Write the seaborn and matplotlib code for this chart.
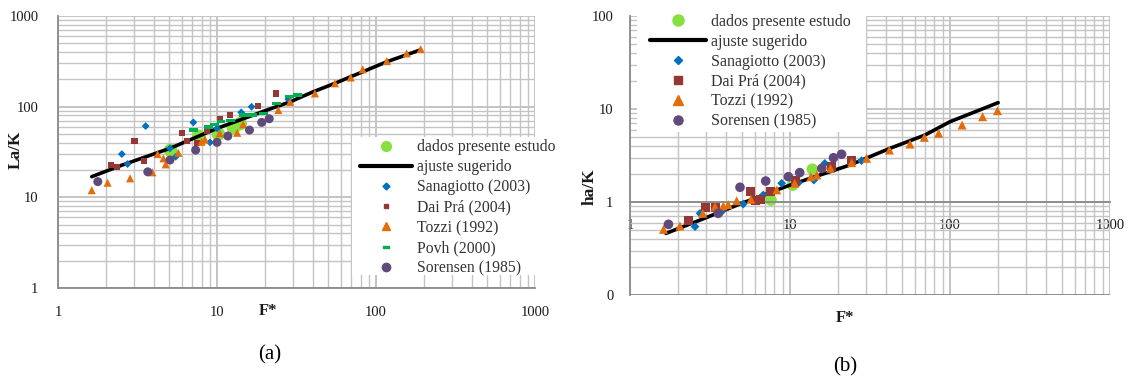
import matplotlib
matplotlib.use('Agg')
import matplotlib.pyplot as plt
import seaborn as sns
import pandas as pd
from matplotlib.lines import Line2D
from matplotlib.patches import Rectangle
from matplotlib.ticker import FixedLocator, FixedFormatter, LogLocator, NullFormatter

# ---------------- data (a): La/K vs F* ----------------
la_pres_F = [5.1, 7.7, 10.2, 12.7, 14.0]
la_pres_y = [33, 47, 50, 58, 65]
la_fit_F = [1.63, 2.5, 5.06, 10, 20, 28.8, 40.3, 55.2, 83.2, 117, 189]
la_fit_y = [16.9, 22.5, 34.7, 57.6, 90, 113, 146, 181, 244, 313, 421]
la_sana_F = [2.52, 2.74, 3.56, 5.06, 5.5, 7.1, 9.03, 10.0, 14.2, 16.5, 28.1]
la_sana_y = [30, 23.3, 61.1, 34.7, 28, 67.1, 40.4, 57.6, 86.5, 99.7, 121]
la_dai_F = [2.15, 2.34, 3.03, 3.49, 6.05, 6.45, 7.45, 8.61, 10.4, 12.1, 18.2, 23.5]
la_dai_y = [22.7, 21.8, 41.8, 25.1, 50.8, 42, 39.4, 53.8, 73, 80.8, 102, 140]
la_tozzi_F = [1.63, 2.05, 2.84, 3.92, 4.23, 4.6, 4.76, 5.71, 8.0, 8.4, 10.4, 13.4, 14.6,
              24.3, 28.8, 41.3, 55.2, 69.3, 82.5, 117, 156, 191]
la_tozzi_y = [12.0, 14.5, 16.2, 18.9, 30.0, 26.9, 23.1, 31, 41, 43.5, 50.8, 51.5, 64,
              91.8, 113, 140, 181, 210, 258, 318, 387, 431]
la_povh_F = [7.1, 8.8, 9.6, 10.6, 12.1, 14.6, 16.8, 19.5, 23.7, 28.5, 32]
la_povh_y = [55.2, 60, 63.8, 68.2, 70, 80.8, 80.8, 84.3, 109, 129, 134]
la_sor_F = [1.78, 3.67, 5.06, 7.34, 10.0, 11.7, 16.0, 19.1, 21.3]
la_sor_y = [14.9, 19.1, 25.8, 33.2, 40.4, 47.4, 55.2, 67.1, 73.6]

# ---------------- data (b): ha/K vs F* ----------------
ha_pres_F = [7.6, 10.4, 13.8]
ha_pres_y = [1.05, 1.52, 2.25]
ha_fit_F = [1.68, 3, 5, 10, 23.7, 42.2, 69.8, 100, 200]
ha_fit_y = [0.46, 0.68, 0.97, 1.52, 2.5, 3.78, 5.25, 7.3, 11.7]
ha_sana_F = [2.55, 2.74, 3.74, 5.1, 6.81, 8.87, 11.3, 14.1, 16.5, 28]
ha_sana_y = [0.543, 0.755, 0.787, 0.95, 1.19, 1.59, 1.61, 1.72, 2.6, 2.78]
ha_dai_F = [2.32, 2.97, 3.43, 5.68, 6.13, 6.5, 7.57, 10.9, 18.2, 24.3]
ha_dai_y = [0.63, 0.877, 0.877, 1.29, 1.03, 1.07, 1.29, 1.69, 2.4, 2.78]
ha_tozzi_F = [1.62, 2.05, 2.85, 3.4, 3.83, 4.11, 4.64, 5.7, 8.26, 10.7, 13.5, 14.7, 17.9,
              24.3, 30.1, 41.8, 56.2, 69.1, 84.9, 119, 160, 198]
ha_tozzi_y = [0.508, 0.552, 0.755, 0.89, 0.906, 0.94, 1.03, 1.07, 1.35, 1.59, 1.87, 1.95, 2.3,
              2.65, 2.95, 3.62, 4.2, 4.96, 5.48, 6.73, 8.26, 9.59]
ha_sor_F = [1.74, 3.56, 4.87, 7.05, 9.77, 11.5, 15.8, 18.7, 21.0]
ha_sor_y = [0.575, 0.755, 1.44, 1.68, 1.87, 2.07, 2.3, 2.99, 3.26]

# ---------------- labels ----------------
lbl_pres = 'dados presente estudo'
lbl_fit = 'ajuste sugerido'
lbl_sana = 'Sanagiotto (2003)'
lbl_dai = 'Dai Prá (2004)'
lbl_tozzi = 'Tozzi (1992)'
lbl_povh = 'Povh (2000)'
lbl_sor = 'Sorensen (1985)'
x_ticks = [1, 10, 100, 1000]
x_tick_labels = ['1', '10', '100', '1000']
la_y_ticks = [1, 10, 100, 1000]
la_y_tick_labels = ['1', '10', '100', '1000']
ha_y_ticks = [0.1, 1, 10, 100]
ha_y_tick_labels = ['0', '1', '10', '100']

# ---------------- style ----------------
sns.set_theme(style='white')
plt.rcParams['font.family'] = ['Liberation Serif', 'DejaVu Serif']

C_GREEN = '#86E040'
C_BLUE = '#0070C0'
C_BROWN = '#953735'
C_ORANGE = '#E46C0A'
C_POVH = '#00B050'
C_PURPLE = '#604A7B'
GRID = '#c4c4c4'
SPINE = '#8a8a8a'
TXT = '#1a1a1a'
dash = [(-1, -0.4), (1, -0.4), (1, 0.4), (-1, 0.4), (-1, -0.4)]

W, H = 1131, 383
fig = plt.figure(figsize=(W / 100, H / 100), dpi=100)
axA = fig.add_axes([58 / W, 1 - 288 / H, 477 / W, 272 / H])
axB = fig.add_axes([630 / W, 1 - 295 / H, 480 / W, 279 / H])


def sc(ax, F, y, color, marker, s, z=3):
    sns.scatterplot(x=F, y=y, ax=ax, color=color, marker=marker, s=s,
                    linewidth=0, edgecolor='none', legend=False, zorder=z)


def ln(ax, F, y):
    sns.lineplot(x=F, y=y, ax=ax, color='black', lw=2.6, sort=False,
                 estimator=None, legend=False, zorder=3)


def style_axes(ax, ylim, yticks, ylabels):
    ax.set_xscale('log')
    ax.set_yscale('log')
    ax.set_xlim(1, 1000)
    ax.set_ylim(*ylim)
    ax.xaxis.set_major_locator(FixedLocator(x_ticks))
    ax.xaxis.set_major_formatter(FixedFormatter(x_tick_labels))
    ax.yaxis.set_major_locator(FixedLocator(yticks))
    ax.yaxis.set_major_formatter(FixedFormatter(ylabels))
    ax.xaxis.set_minor_locator(LogLocator(base=10, subs=range(2, 10), numticks=20))
    ax.yaxis.set_minor_locator(LogLocator(base=10, subs=range(2, 10), numticks=20))
    ax.xaxis.set_minor_formatter(NullFormatter())
    ax.yaxis.set_minor_formatter(NullFormatter())
    ax.set_axisbelow(True)
    ax.grid(True, which='major', color=GRID, lw=1.4)
    ax.grid(True, which='minor', color=GRID, lw=1.0)
    for s in ['top', 'right']:
        ax.spines[s].set_visible(False)
    for s in ['left', 'bottom']:
        ax.spines[s].set_color(SPINE)
        ax.spines[s].set_linewidth(1.3)
    ax.tick_params(which='major', length=4, color=SPINE, labelsize=10.5, labelcolor=TXT)
    ax.tick_params(which='minor', length=0)
    ax.set_xlabel('')
    ax.set_ylabel('')


# ---------- panel (a) ----------
sc(axA, la_pres_F, la_pres_y, C_GREEN, 'o', 95, z=2)
ln(axA, la_fit_F, la_fit_y)
sc(axA, la_sana_F, la_sana_y, C_BLUE, 'D', 16)
sc(axA, la_dai_F, la_dai_y, C_BROWN, 's', 20)
sc(axA, la_tozzi_F, la_tozzi_y, C_ORANGE, '^', 34)
sc(axA, la_povh_F, la_povh_y, C_POVH, dash, 40)
sc(axA, la_sor_F, la_sor_y, C_PURPLE, 'o', 42)
style_axes(axA, (1, 1000), la_y_ticks, la_y_tick_labels)
axA.tick_params(axis='y', pad=10)
axA.tick_params(axis='x', pad=9)

axA.add_patch(Rectangle((0.616, 0.048), 0.44, 0.507, transform=axA.transAxes,
                        facecolor='white', edgecolor='none', zorder=4, clip_on=False))
handlesA = [
    Line2D([], [], ls='', marker='o', color=C_GREEN, ms=7),
    Line2D([], [], color='black', lw=3),
    Line2D([], [], ls='', marker='D', color=C_BLUE, ms=3.5),
    Line2D([], [], ls='', marker='s', color=C_BROWN, ms=3.2),
    Line2D([], [], ls='', marker='^', color=C_ORANGE, ms=5.5),
    Line2D([], [], ls='', marker=dash, color=C_POVH, ms=4),
    Line2D([], [], ls='', marker='o', color=C_PURPLE, ms=6),
]
labelsA = [lbl_pres, lbl_fit, lbl_sana, lbl_dai, lbl_tozzi, lbl_povh, lbl_sor]
legA = axA.legend(handlesA, labelsA, loc='upper left', bbox_to_anchor=(360 / W, 1 - 139 / H),
                  bbox_transform=fig.transFigure, frameon=False, borderpad=0, borderaxespad=0,
                  fontsize=11.3, handlelength=3.3, handletextpad=0.35, labelspacing=0.27)
legA.set_zorder(5)
for t in legA.get_texts():
    t.set_color('#333333')

# ---------- panel (b) ----------
sc(axB, ha_pres_F, ha_pres_y, C_GREEN, 'o', 70, z=2)
ln(axB, ha_fit_F, ha_fit_y)
sc(axB, ha_sana_F, ha_sana_y, C_BLUE, 'D', 20)
sc(axB, ha_dai_F, ha_dai_y, C_BROWN, 's', 42)
sc(axB, ha_tozzi_F, ha_tozzi_y, C_ORANGE, '^', 42)
sc(axB, ha_sor_F, ha_sor_y, C_PURPLE, 'o', 48)
style_axes(axB, (0.1, 100), ha_y_ticks, ha_y_tick_labels)
axB.spines['bottom'].set_position(('data', 1))
axB.axhline(0.1, color=SPINE, lw=1.3, zorder=1.5)
axB.tick_params(axis='y', pad=8)
axB.tick_params(axis='x', pad=8)

axB.add_patch(Rectangle((0.0146, 0.584), 0.478, 0.45, transform=axB.transAxes,
                        facecolor='white', edgecolor='none', zorder=4, clip_on=False))
handlesB = [
    Line2D([], [], ls='', marker='o', color=C_GREEN, ms=8),
    Line2D([], [], color='black', lw=3),
    Line2D([], [], ls='', marker='D', color=C_BLUE, ms=4.2),
    Line2D([], [], ls='', marker='s', color=C_BROWN, ms=6),
    Line2D([], [], ls='', marker='^', color=C_ORANGE, ms=6.5),
    Line2D([], [], ls='', marker='o', color=C_PURPLE, ms=6.5),
]
labelsB = [lbl_pres, lbl_fit, lbl_sana, lbl_dai, lbl_tozzi, lbl_sor]
legB = axB.legend(handlesB, labelsB, loc='upper left', bbox_to_anchor=(650 / W, 1 - 14 / H),
                  bbox_transform=fig.transFigure, frameon=False, borderpad=0, borderaxespad=0,
                  fontsize=11.5, handlelength=3.5, handletextpad=0.3, labelspacing=0.24)
legB.set_zorder(5)
for t in legB.get_texts():
    t.set_color('#333333')

# ---------- axis titles and captions ----------
fig.text(16 / W, 1 - 150 / H, 'La/K', rotation=90, ha='center', va='center',
         fontsize=12.5, fontweight='bold', color=TXT)
fig.text(268 / W, 1 - 311 / H, 'F*', ha='center', va='center',
         fontsize=12, fontweight='bold', color=TXT)
fig.text(590 / W, 1 - 187 / H, 'ha/K', rotation=90, ha='center', va='center',
         fontsize=12.5, fontweight='bold', color=TXT)
fig.text(845 / W, 1 - 318 / H, 'F*', ha='center', va='center',
         fontsize=12, fontweight='bold', color=TXT)
fig.text(270 / W, 1 - 355 / H, '(a)', ha='center', va='center', fontsize=15, color='black')
fig.text(845 / W, 1 - 367 / H, '(b)', ha='center', va='center', fontsize=15, color='black')

fig.savefig('out.png', dpi=100)
